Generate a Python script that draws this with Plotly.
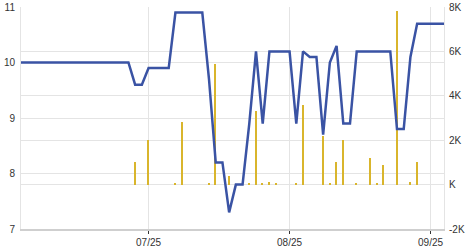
import plotly.graph_objects as go

# price line (left axis), one value per trading point
price = [10.0, 10.0, 10.0, 10.0, 10.0, 10.0, 10.0, 10.0, 10.0, 10.0,
         10.0, 10.0, 10.0, 10.0, 10.0, 10.0, 10.0, 9.6, 9.6, 9.9,
         9.9, 9.9, 9.9, 10.9, 10.9, 10.9, 10.9, 10.9, 9.7, 8.2,
         8.2, 7.3, 7.8, 7.8, 8.9, 10.2, 8.9, 10.2, 10.2, 10.2,
         10.2, 8.9, 10.2, 10.1, 10.1, 8.7, 10.0, 10.3, 8.9, 8.9,
         10.2, 10.2, 10.2, 10.2, 10.2, 10.2, 8.8, 8.8, 10.1, 10.7,
         10.7, 10.7, 10.7, 10.7]

# volume bars (right axis)
volume = [0, 0, 0, 0, 0, 0, 0, 0, 0, 0,
          0, 0, 0, 0, 0, 0, 0, 1000, 0, 2000,
          0, 0, 0, 80, 2800, 0, 0, 0, 80, 5450,
          0, 400, 0, 0, 80, 3300, 80, 100, 80, 0,
          0, 80, 3600, 0, 0, 2200, 80, 1000, 2000, 0,
          80, 0, 1200, 80, 900, 0, 7800, 0, 100, 1000,
          0, 0, 0, 0]

tick_points = [19, 40, 61]
tick_labels = ["07/25", "08/25", "09/25"]

vol_ticks = [-2000, 0, 2000, 4000, 6000, 8000]
vol_labels = ["-2K", "K", "2K", "4K", "6K", "8K"]

x = list(range(len(price)))

fig = go.Figure()
fig.add_trace(go.Bar(x=x, y=volume, yaxis="y", width=0.22,
                     marker=dict(color="#d9b52c", line=dict(width=0))))
fig.add_trace(go.Scatter(x=x, y=price, yaxis="y2", mode="lines",
                         line=dict(color="#3a53a4", width=2.5)))

grid = "#e4e4e4"
fig.update_layout(
    width=470, height=250,
    margin=dict(l=21, r=26, t=7, b=21),
    paper_bgcolor="white", plot_bgcolor="white",
    showlegend=False,
    font=dict(family="Liberation Sans, Arial", size=10, color="#333"),
    bargap=0,
    xaxis=dict(range=[0, len(price) - 1], tickvals=tick_points, ticktext=tick_labels,
               showgrid=True, gridcolor=grid, gridwidth=1,
               showline=True, linecolor="#cfcfcf", linewidth=2,
               ticks="outside", ticklen=3, tickcolor="#333", tickwidth=1,
               zeroline=False, mirror=False, automargin=False),
    yaxis=dict(side="right", range=[-2000, 8000], tickvals=vol_ticks, ticktext=vol_labels,
               showgrid=True, gridcolor=grid, zeroline=False, automargin=False,
               showline=True, linecolor=grid, ticks="", ticklabelstandoff=2),
    yaxis2=dict(side="left", overlaying="y", range=[7, 11], dtick=1,
                showgrid=True, gridcolor=grid, zeroline=False, automargin=False,
                showline=True, linecolor=grid, ticks="", ticklabelstandoff=3),
)

fig.write_html("out.html", config={"displayModeBar": False},
               post_script="document.body.style.margin='0';")
